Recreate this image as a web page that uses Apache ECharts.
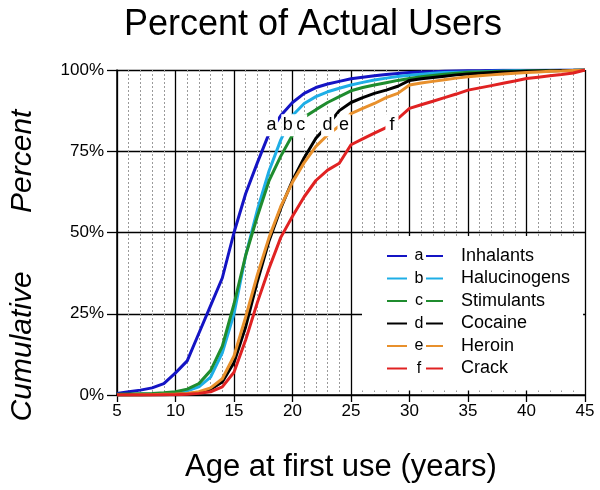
<!DOCTYPE html>
<html>
<head>
<meta charset="utf-8">
<script src="https://cdn.jsdelivr.net/npm/echarts@6/dist/echarts.min.js"></script>
<style>html,body{margin:0;padding:0;background:#fff}#c{width:600px;height:490px}</style>
</head>
<body>
<div id="c"></div>
<script>
// ---- data ----
var ages = [5,6,7,8,9,10,11,12,13,14,15,16,17,18,19,20,21,22,23,24,25,26,27,28,29,30,31,32,33,34,35,36,37,38,39,40,41,42,43,44,45];
var inhalants    = [0.5,1.0,1.5,2.2,3.5,6.8,10.5,19,27.5,36,50,62,71.5,80.5,86,90,92.8,94.6,95.7,96.5,97.3,97.8,98.2,98.6,98.9,99.2,99.4,99.5,99.6,99.7,99.8,99.8,99.85,99.9,99.9,99.9,99.95,99.95,100,100,100];
var halucinogens = [0,0.1,0.2,0.3,0.5,0.8,1.3,2.5,5.5,13,25,43,57,69,78.5,86,89.7,91.8,93.3,94.4,95.4,96.2,96.9,97.5,98,98.4,98.7,99,99.2,99.3,99.4,99.5,99.6,99.7,99.75,99.8,99.85,99.9,99.9,99.95,100];
var stimulants   = [0.2,0.3,0.4,0.5,0.7,1,1.8,3.5,7.5,15,28,43,55,66,73.5,80,85.5,87.8,90,91.8,93.6,94.6,95.4,96.1,96.8,97.4,97.9,98.3,98.7,99,99.3,99.4,99.5,99.6,99.65,99.7,99.75,99.8,99.85,99.9,100];
var cocaine      = [0,0,0,0.1,0.1,0.2,0.4,0.8,1.8,4,10,21,35,47.5,57.5,66,73,79,83,87.5,90,91.5,92.8,93.8,95,96.8,97.3,97.7,98.1,98.5,98.8,99,99.2,99.35,99.5,99.6,99.7,99.8,99.85,99.9,100];
var heroin       = [0,0,0.1,0.1,0.2,0.3,0.5,1,2.2,5,12,24,37,48.5,58,65.5,71.5,76.5,80,82.8,86.6,88.2,89.7,91.5,92.8,95.4,96,96.5,97,97.5,97.9,98.2,98.5,98.8,99,99.2,99.4,99.6,99.7,99.85,100];
var crack        = [0,0,0,0,0.1,0.1,0.2,0.5,1,2.5,7,17,28.5,39,48.5,55,61,66,69.2,71.3,77,78.8,80.6,82.3,85,88.2,89.3,90.4,91.5,92.6,93.8,94.5,95.2,95.9,96.6,97.4,97.8,98.2,98.6,99.1,100];

var seriesNames  = ['Inhalants','Halucinogens','Stimulants','Cocaine','Heroin','Crack'];
var seriesLetters = ['a','b','c','d','e','f'];
var labelAges    = [18.2,19.6,20.7,23.0,24.4,28.5];
var labelPercent = 83;
var yTicks = [0,25,50,75,100];

var colors = ['#1414c4','#1eaee6','#1f8c2e','#000000','#e8902c','#e02222'];
var values = [inhalants,halucinogens,stimulants,cocaine,heroin,crack];

var chart = echarts.init(document.getElementById('c'), null, {renderer:'canvas'});
var FONT = 'Liberation Sans, Arial, sans-serif';

var rich = {
  c: {fontSize:16, width:14, align:'center', color:'#000', fontFamily:FONT},
  n: {fontSize:18, padding:[0,0,0,18], color:'#000', fontFamily:FONT}
};
colors.forEach(function(col,i){ rich['r'+i] = {width:17, height:2, backgroundColor:col}; });

var series = seriesNames.map(function(name,i){
  return {
    name: name,
    type: 'line',
    showSymbol: false,
    symbol: 'none',
    color: colors[i],
    lineStyle: {width:3, color:colors[i]},
    data: ages.map(function(a,j){ return [a, values[i][j]]; }),
    markPoint: {
      symbol: 'rect',
      symbolSize: [13,22],
      itemStyle: {color:'#fff'},
      label: {show:true, position:'inside', formatter: seriesLetters[i], color:'#000', fontSize:18, fontFamily:FONT},
      data: [{coord:[labelAges[i], labelPercent]}]
    }
  };
});

chart.setOption({
  animation: false,
  backgroundColor: '#fff',
  title: {
    text: 'Percent of Actual Users',
    left: 308, top: 2, textAlign: 'center',
    textStyle: {fontSize:36, fontWeight:'normal', color:'#000', fontFamily:FONT}
  },
  grid: {left:115, right:15, top:70, bottom:95, containLabel:false},
  legend: {
    orient: 'vertical',
    left: 362, top: 236,
    padding: [10,13,12,25],
    itemGap: 2.5,
    itemWidth: 20, itemHeight: 2,
    icon: 'rect',
    backgroundColor: '#fff',
    selectedMode: false,
    data: seriesNames,
    textStyle: {fontSize:18, lineHeight:20, color:'#000', fontFamily:FONT, rich:rich},
    formatter: function(name){
      var i = seriesNames.indexOf(name);
      return '{c|' + seriesLetters[i] + '}{r' + i + '| }{n|' + name + '}';
    }
  },
  xAxis: {
    type: 'value', min: 5, max: 45, interval: 5,
    name: 'Age at first use (years)',
    nameLocation: 'middle', nameGap: 57,
    nameTextStyle: {fontSize:31, color:'#000', fontFamily:FONT, padding:[0,20,0,0]},
    axisLine: {show:true, lineStyle:{color:'#000', width:1.5}},
    axisTick: {show:true, length:7, lineStyle:{color:'#000', width:1.3}},
    axisLabel: {fontSize:17, color:'#000', margin:8, fontFamily:FONT},
    splitLine: {show:true, lineStyle:{color:'#000', width:1.3}},
    minorTick: {show:false, splitNumber:5},
    minorSplitLine: {show:true, lineStyle:{color:'#9a9a9a', width:1, type:[2,2]}}
  },
  yAxis: {
    type: 'value', min: 0, max: 100, interval: 25,
    name: 'Cumulative       Percent',
    nameLocation: 'middle', nameGap: 79, nameRotate: 90,
    nameTextStyle: {fontSize:30, fontStyle:'italic', color:'#000', fontFamily:FONT, padding:[0,66,0,0]},
    axisLine: {show:true, lineStyle:{color:'#000', width:1.5}},
    axisTick: {show:true, length:10, lineStyle:{color:'#000', width:1.3}},
    axisLabel: {fontSize:17, color:'#000', margin:13, fontFamily:FONT,
      formatter: function(v){ return yTicks.indexOf(v) >= 0 ? v + '%' : ''; }},
    splitLine: {show:true, lineStyle:{color:'#000', width:1.3}}
  },
  series: series
});
</script>
</body>
</html>
